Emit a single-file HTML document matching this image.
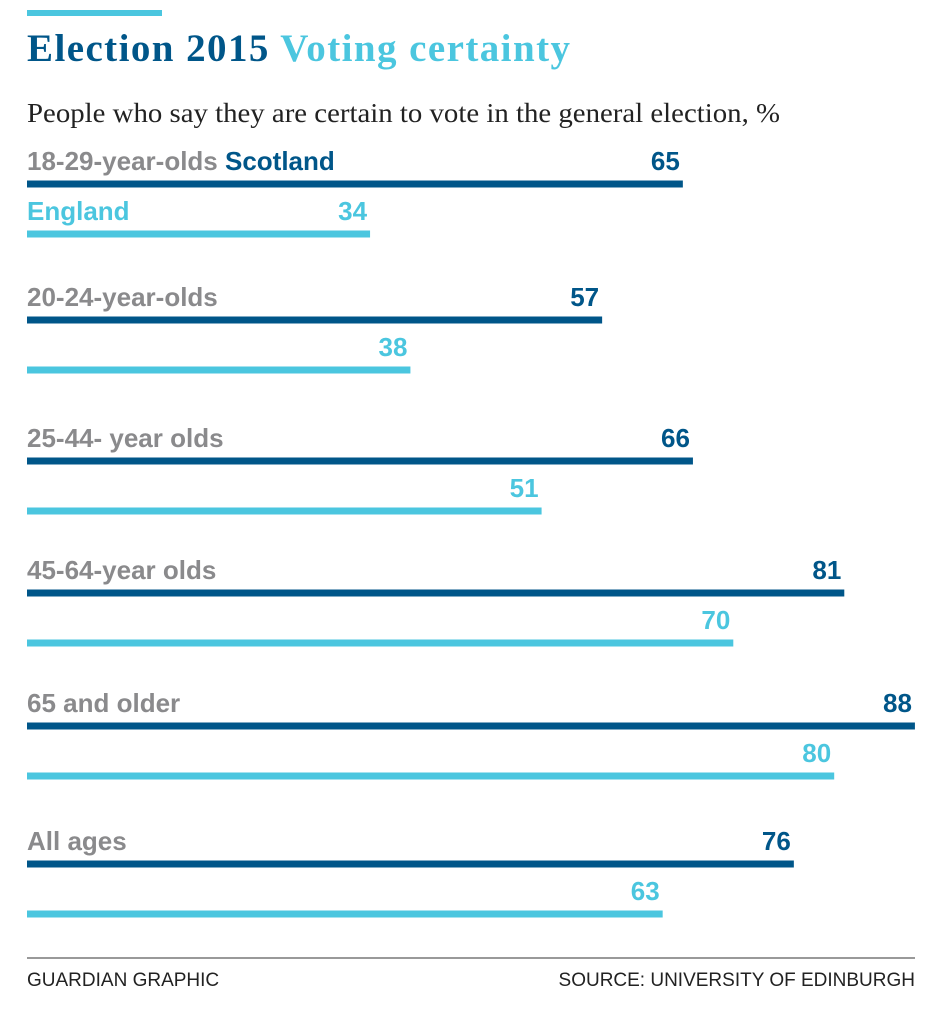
<!DOCTYPE html>
<html><head><meta charset="utf-8"><style>
body{margin:0;background:#fff;width:940px;height:1024px;overflow:hidden}
svg{display:block}
.lab{font-family:"Liberation Sans Narrow","Liberation Sans",sans-serif;font-weight:bold;font-size:26px}
</style></head><body>
<svg id="chart" width="940" height="1024">
<rect x="27" y="10" width="135" height="6" fill="#4bc6df"/>
<text x="27" y="61" font-family="Liberation Serif,serif" font-weight="bold" font-size="39" textLength="543" lengthAdjust="spacing"><tspan fill="#005689">Election 2015</tspan> <tspan fill="#4bc6df">Voting certainty</tspan></text>
<text x="27" y="122" font-family="Liberation Serif,serif" font-size="27" fill="#222" textLength="753" lengthAdjust="spacingAndGlyphs">People who say they are certain to vote in the general election, %</text>
<g id="bars"></g>
<line x1="27" y1="958" x2="915" y2="958" stroke="#333" stroke-width="1"/>
<text x="27" y="986" font-family="Liberation Sans,sans-serif" font-size="19" fill="#222">GUARDIAN GRAPHIC</text>
<text x="915" y="986" text-anchor="end" font-family="Liberation Sans,sans-serif" font-size="19" fill="#222">SOURCE: UNIVERSITY OF EDINBURGH</text>
</svg>
<script>
const categories=["18-29-year-olds","20-24-year-olds","25-44- year olds","45-64-year olds","65 and older","All ages"];
const scotland=[65,57,66,81,88,76];
const england=[34,38,51,70,80,63];
const x=v=>27+v*10.09;
const groupY=[184,320,461,593,726,864];
const NS="http://www.w3.org/2000/svg";
const g=document.getElementById('bars');
function mk(tag,attrs){const e=document.createElementNS(NS,tag);for(const k in attrs)e.setAttribute(k,attrs[k]);g.appendChild(e);return e;}
categories.forEach((c,i)=>{
  const ys=groupY[i], ye=ys+50;
  [[scotland[i],ys,"#005689","scotland"],[england[i],ye,"#4bc6df","england"]].forEach(([v,y,col,s])=>{
    const r=mk('rect',{x:27,y:y-3.5,width:x(v)-27,height:7,fill:col});
    
    
    const t=mk('text',{x:x(v)-3,y:y-14,'text-anchor':'end',fill:col,class:'lab'});
    t.textContent=v;
    
    
  });
  const l=mk('text',{x:27,y:ys-14,fill:'#8a8a8c',class:'lab'});
  l.textContent=c;
  
  
  if(i===0){
    const ts=document.createElementNS(NS,'tspan');ts.setAttribute('fill','#005689');ts.textContent=' Scotland';l.appendChild(ts);
    const e=mk('text',{x:27,y:ys+50-14,fill:'#4bc6df',class:'lab'});
    e.textContent='England';
    
    
  }
});
</script>
</body></html>
